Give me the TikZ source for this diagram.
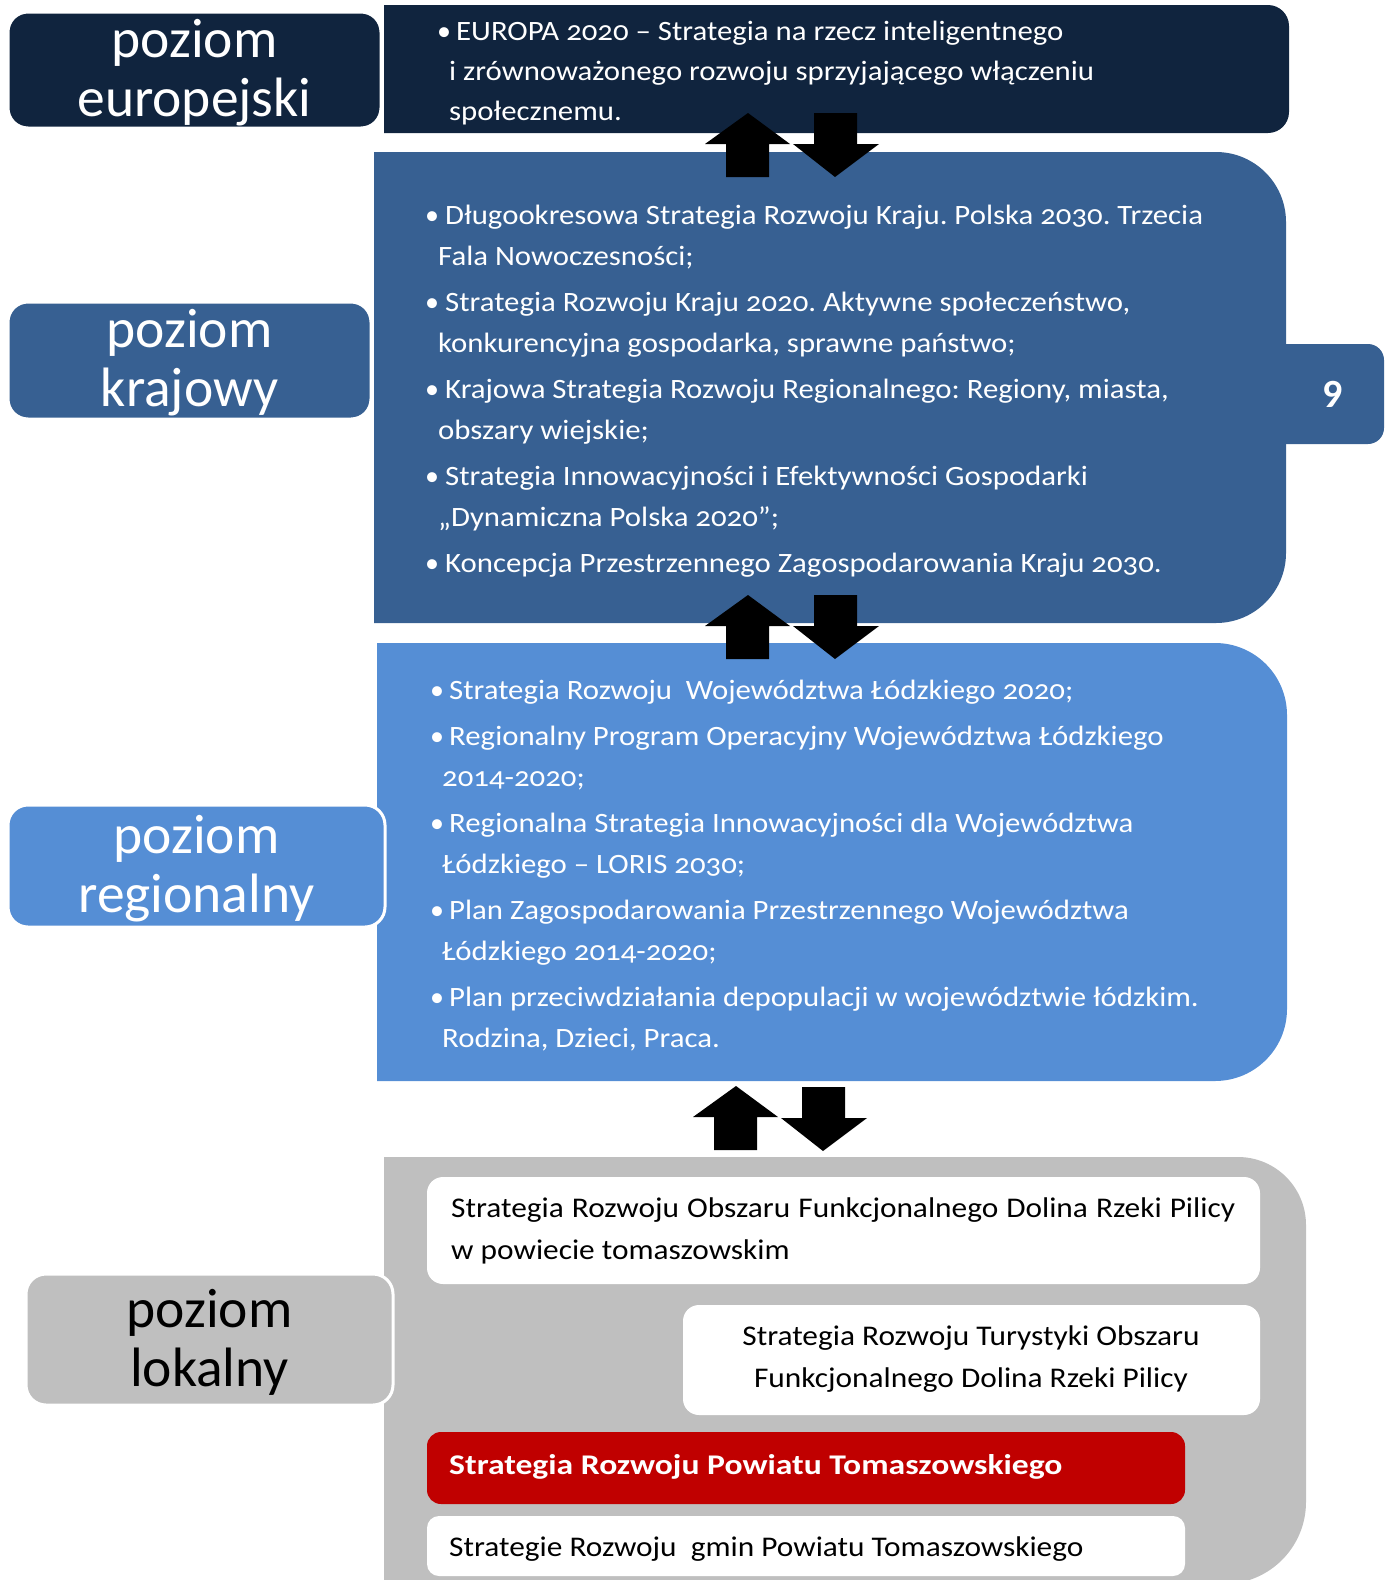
\documentclass[tikz,border=0pt]{standalone}
\usepackage{fontspec}
\setmainfont{Carlito}[Numbers=OldStyle, FakeStretch=1.1]
\newfontfamily\labfont{Carlito}[Numbers=OldStyle]
\newfontfamily\redfont{Carlito}[Numbers=OldStyle, FakeStretch=1.18]
\definecolor{navy}{HTML}{10243E}
\definecolor{natblue}{HTML}{376092}
\definecolor{regblue}{HTML}{558ED5}
\definecolor{lgray}{HTML}{BFBFBF}
\definecolor{dred}{HTML}{C00000}
\newcommand\rrbox[7]{\fill[#1] (#2,#3) -- ({#4-#6},#3) .. controls ({#4-0.448*#6},#3) and (#4,{#3+0.448*#6}) .. (#4,{#3+#6}) -- (#4,{#5-#7}) .. controls (#4,{#5-0.448*#7}) and ({#4-0.448*#7},#5) .. ({#4-#7},#5) -- (#2,#5) -- cycle;}
\newcommand\uparr[2]{\fill[black] (#1,#2) -- ({#1+42},{#2+31}) -- ({#1+21},{#2+31}) -- ({#1+21},{#2+64}) -- ({#1-22},{#2+64}) -- ({#1-22},{#2+31}) -- ({#1-43},{#2+31}) -- cycle;}
\newcommand\downarr[2]{\fill[black] ({#1-21},#2) -- ({#1+22},#2) -- ({#1+22},{#2+31}) -- ({#1+44},{#2+31}) -- (#1,{#2+64}) -- ({#1-42},{#2+31}) -- ({#1-21},{#2+31}) -- cycle;}
\frenchspacing
\begin{document}
\begin{tikzpicture}[x=1pt,y=-1pt,
  lab/.style={draw=white, line width=3pt, rounded corners=20pt, inner sep=0pt},
  labtext/.style={align=center, inner sep=0pt, font=\labfont\fontsize{55.5}{59}\selectfont, text=white},
  lt/.style={anchor=base west, inner sep=0pt, text=white, font=\fontsize{28}{34}\selectfont},
  bl/.style={anchor=base, inner sep=0pt, text=white, font=\labfont\fontsize{28}{34}\selectfont},
  lk/.style={anchor=base west, inner sep=0pt, text=black, font=\fontsize{28.5}{34}\selectfont},
  wbox/.style={fill=white, rounded corners=16pt, inner sep=0pt}]
\useasboundingbox (0,0) rectangle (1392,1580);
% content boxes
\rrbox{navy}{384}{5}{1289}{133}{21}{21}
\rrbox{natblue}{374}{152}{1286}{623}{70}{70}
\rrbox{regblue}{377}{643}{1287}{1081}{72}{72}
\rrbox{lgray}{384}{1157}{1306}{1584}{68}{82}
\fill[natblue, rounded corners=16pt] (1240,344) rectangle (1384,444);
\node[anchor=center, inner sep=0pt, text=white, font=\labfont\fontsize{40}{44}\selectfont\bfseries\addfontfeatures{Numbers=Lining}] (nine) at (1333,394) {9};
% arrows
\uparr{748}{113}\downarr{835}{113}
\uparr{748}{595}\downarr{835}{595}
\uparr{736}{1086}\downarr{823}{1087}
% labels
\node[lab, fill=navy, minimum width=373pt, minimum height=116pt] (leuro) at (194.5,70) {};
\node[labtext] (leurot) at ([yshift=-2.5pt]leuro.center) {poziom\\europejski};
\node[lab, fill=natblue, minimum width=363pt, minimum height=117pt] (lnat) at (189.5,360.5) {};
\node[labtext] (lnatt) at ([yshift=-2.5pt]lnat.center) {poziom\\krajowy};
\node[lab, fill=regblue, minimum width=377pt, minimum height=122pt] (lreg) at (196.5,866) {};
\node[labtext] (lregt) at ([yshift=-2.5pt]lreg.center) {poziom\\regionalny};
\node[lab, fill=lgray, minimum width=367pt, minimum height=131pt] (lloc) at (209.5,1339.5) {};
\node[labtext, text=black] (lloct) at ([yshift=-2.5pt]lloc.center) {poziom\\lokalny};
% european text
\node[bl] (e1b) at (444,40) {•};
\node[lt] (e1) at (456,40) {EUROPA 2020 – Strategia na rzecz inteligentnego};
\node[lt] (e2) at (449,80) {i zrównoważonego rozwoju sprzyjającego włączeniu};
\node[lt] (e3) at (449,120) {społecznemu.};
% national text
\node[bl] (n1b) at (432,224) {•};
\node[lt] (n1) at (445,224) {Długookresowa Strategia Rozwoju Kraju. Polska 2030. Trzecia};
\node[lt] (n1c) at (438,265) {Fala Nowoczesności;};
\node[bl] (n2b) at (432,311) {•};
\node[lt] (n2) at (445,311) {Strategia Rozwoju Kraju 2020. Aktywne społeczeństwo,};
\node[lt] (n2c) at (438,352) {konkurencyjna gospodarka, sprawne państwo;};
\node[bl] (n3b) at (432,398) {•};
\node[lt] (n3) at (445,398) {Krajowa Strategia Rozwoju Regionalnego: Regiony, miasta,};
\node[lt] (n3c) at (438,439) {obszary wiejskie;};
\node[bl] (n4b) at (432,485) {•};
\node[lt] (n4) at (445,485) {Strategia Innowacyjności i Efektywności Gospodarki};
\node[lt] (n4c) at (438,526) {„Dynamiczna Polska 2020”;};
\node[bl] (n5b) at (432,572) {•};
\node[lt] (n5) at (445,572) {Koncepcja Przestrzennego Zagospodarowania Kraju 2030.};
% regional text
\node[bl] (r1b) at (437,699) {•};
\node[lt] (r1) at (449,699) {Strategia Rozwoju~ Województwa Łódzkiego 2020;};
\node[bl] (r2b) at (437,745) {•};
\node[lt] (r2) at (449,745) {Regionalny Program Operacyjny Województwa Łódzkiego};
\node[lt] (r2c) at (442,786) {2014-2020;};
\node[bl] (r3b) at (437,832) {•};
\node[lt] (r3) at (449,832) {Regionalna Strategia Innowacyjności dla Województwa};
\node[lt] (r3c) at (442,873) {Łódzkiego – LORIS 2030;};
\node[bl] (r4b) at (437,919) {•};
\node[lt] (r4) at (449,919) {Plan Zagospodarowania Przestrzennego Województwa};
\node[lt] (r4c) at (442,960) {Łódzkiego 2014-2020;};
\node[bl] (r5b) at (437,1006) {•};
\node[lt] (r5) at (449,1006) {Plan przeciwdziałania depopulacji w województwie łódzkim.};
\node[lt] (r5c) at (442,1047) {Rodzina, Dzieci, Praca.};
% local boxes
\node[wbox, minimum width=833pt, minimum height=107pt] (w1) at (843.5,1230.5) {};
\node[wbox, minimum width=577pt, minimum height=110pt] (w2) at (971.5,1360) {};
\node[fill=dred, rounded corners=14pt, inner sep=0pt, minimum width=758pt, minimum height=72pt] (red) at (806,1468) {};
\node[wbox, rounded corners=12pt, minimum width=758pt, minimum height=60pt] (w3) at (806,1546) {};
\node[lk] (l1) at (451,1217) {\makebox[784pt][s]{Strategia Rozwoju Obszaru Funkcjonalnego Dolina Rzeki Pilicy}};
\node[lk] (l2) at (451,1259) {w powiecie tomaszowskim};
\node[lk, anchor=base] (l3) at (971,1345) {Strategia Rozwoju Turystyki Obszaru};
\node[lk, anchor=base] (l4) at (971,1387) {Funkcjonalnego Dolina Rzeki Pilicy};
\node[lt, font=\redfont\fontsize{28.5}{34}\selectfont\bfseries] (l5) at (449,1474) {Strategia Rozwoju Powiatu Tomaszowskiego};
\node[lk] (l6) at (449,1556) {Strategie Rozwoju~ gmin Powiatu Tomaszowskiego};
\end{tikzpicture}
\end{document}
